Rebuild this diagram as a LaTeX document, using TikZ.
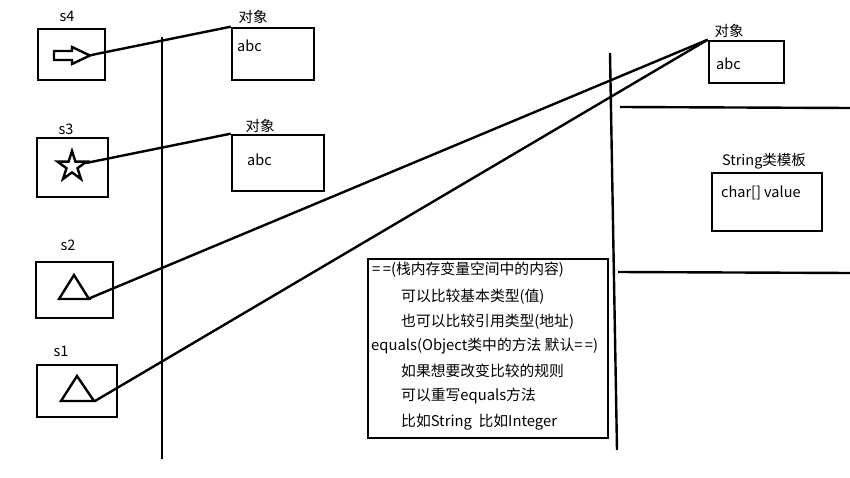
\documentclass[tikz,border=0pt]{standalone}
\usepackage{fontspec}
\setmainfont{Noto Sans CJK SC}
\begin{document}
\begin{tikzpicture}[x=1pt,y=-1pt,
  box/.style={draw,line width=2.6pt,inner sep=0pt},
  lbl/.style={inner sep=0pt,font=\fontsize{14.5}{16}\selectfont},
  txt/.style={inner sep=0pt,anchor=west,font=\fontsize{14.8}{17}\selectfont},
  wire/.style={line width=2.4pt},
  shp/.style={line width=2.4pt,line join=miter}]
\useasboundingbox (0,0) rectangle (850,478);
% stack vars
\node[box,minimum width=67pt,minimum height=51pt] (v4) at (71.5,54.5) {};
\node[lbl] (l4) at (67,16) {s4};
\node[box,minimum width=71pt,minimum height=59pt] (v3) at (72.5,167.5) {};
\node[lbl] (l3) at (66,129) {s3};
\node[box,minimum width=77pt,minimum height=56pt] (v2) at (74.5,290) {};
\node[lbl] (l2) at (68,245) {s2};
\node[box,minimum width=80pt,minimum height=52pt] (v1) at (77,391) {};
\node[lbl] (l1) at (61,351) {s1};
% shapes in vars
\draw[shp] (54,51) -- (72,51) -- (72,47) -- (90,55.5) -- (72,64) -- (72,60) -- (54,60) -- cycle;
\coordinate (a4) at (89,55.5);
\draw[shp] (72,151) -- (75.4,161.6) -- (86.5,161.6) -- (77.5,168.2) -- (81,179) -- (72,172.4) -- (63,179) -- (66.5,168.2) -- (57.5,161.6) -- (68.6,161.6) -- cycle;
\coordinate (a3) at (86,163);
\draw[shp] (74,275) -- (89,299) -- (59,299) -- cycle;
\coordinate (a2) at (89,298.5);
\draw[shp] (77,376) -- (94,401) -- (61,401) -- cycle;
\coordinate (a1) at (95,401);
% divider lines
\coordinate (d1t) at (162,37);
\coordinate (d1b) at (162,459);
\draw[line width=2.4pt] (d1t) -- (d1b);
\coordinate (d2t) at (610,53);
\coordinate (d2b) at (617,450);
\draw[line width=2.4pt] (d2t) -- (d2b);
\coordinate (h1a) at (620,107);
\coordinate (h1b) at (850,108);
\draw[line width=2.4pt] (h1a) -- (h1b);
\coordinate (h2a) at (618,272);
\coordinate (h2b) at (850,273);
\draw[line width=2.4pt] (h2a) -- (h2b);
% objects
\node[box,minimum width=82pt,minimum height=52pt] (o1) at (273,54) {};
\node[lbl] (o1l) at (253,17) {对象};
\node[lbl,anchor=west] (o1t) at (237,46) {abc};
\node[box,minimum width=92pt,minimum height=56pt] (o2) at (278,163) {};
\node[lbl] (o2l) at (260,126) {对象};
\node[lbl,anchor=west] (o2t) at (247,160) {abc};
\node[box,minimum width=75pt,minimum height=42pt] (o3) at (746.5,62) {};
\node[lbl] (o3l) at (729,31) {对象};
\node[lbl,anchor=west] (o3t) at (716,64) {abc};
\node[box,minimum width=110pt,minimum height=58pt] (tp) at (767,202) {};
\node[lbl] (tpl) at (764,161) {String类模板};
\node[lbl,anchor=west] (tpt) at (721,193) {char[] value};
% references
\draw[wire] (a4) -- (o1.north west);
\draw[wire] (a3) -- (o2.north west);
\draw[wire] (a2) -- (o3.north west);
\draw[wire] (a1) -- (o3.north west);
% note box
\node[box,minimum width=240pt,minimum height=179pt] (nb) at (488,348.5) {};
\node[txt] (n1) at (372,270) {=\,=(栈内存变量空间中的内容)};
\node[txt] (n2) at (401,297) {可以比较基本类型(值)};
\node[txt] (n3) at (401,322) {也可以比较引用类型(地址)};
\node[txt] (n4) at (371,346) {equals(Object类中的方法 默认=\,=)};
\node[txt] (n5) at (401,371) {如果想要改变比较的规则};
\node[txt] (n6) at (401,396) {可以重写equals方法};
\node[txt] (n7) at (401,422) {比如String\ \ 比如Integer};
\end{tikzpicture}
\end{document}
